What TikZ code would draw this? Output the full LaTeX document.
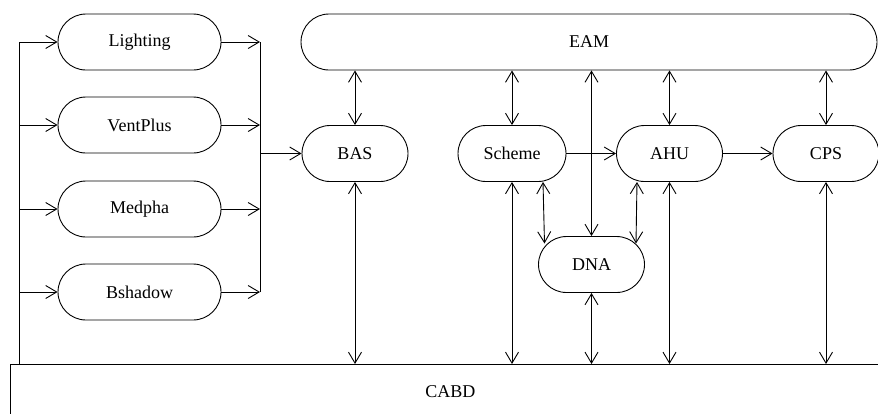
\documentclass[tikz,border=0pt]{standalone}
\usepackage{fontspec}
\setmainfont{Liberation Serif}
\usetikzlibrary{arrows.meta,shapes.misc,calc}
\begin{document}
\begin{tikzpicture}[x=1pt,y=-1pt,
  line width=0.9pt, line join=round,
  tip/.tip={Straight Barb[length=11pt,width=13pt,line width=0.9pt]},
  >=tip,
  pill/.style={rounded rectangle, draw, minimum height=56pt, inner sep=0pt,
    font=\fontsize{18}{20}\selectfont},
  small/.style={pill, minimum width=106pt},
  leftbox/.style={pill, minimum width=163pt}
]
\useasboundingbox (0,0) rectangle (878,413);
\clip (0,0) rectangle (878,413);
% left column
\node[leftbox] (light) at (139.5,42) {Lighting};
\node[leftbox] (vent) at (139.5,125) {VentPlus};
\node[leftbox] (med) at (139.5,209) {Medpha};
\node[leftbox] (bsh) at (139.5,292) {Bshadow};
% top bar
\node[pill, minimum width=576pt] (eam) at (589,42) {EAM};
% middle row
\node[small] (bas) at (355,153.5) {BAS};
\node[small, minimum width=108pt] (sch) at (512,153.5) {Scheme};
\node[small] (ahu) at (669.5,153.5) {AHU};
\node[small] (cps) at (826,153.5) {CPS};
\node[small] (dna) at (591.5,264.5) {DNA};
% bottom bar
\node[draw, rectangle, anchor=north west, minimum width=880pt, minimum height=54pt,
  inner sep=0pt, font=\fontsize{18}{20}\selectfont] (cabd) at (10,364) {CABD};
% buses
\coordinate (busL) at (19,42);
\coordinate (busR) at (260,42);
\coordinate (busRb) at (260,292);
\draw (busL |- cabd.north) -- (busL);
\foreach \n in {light,vent,med,bsh}{
  \draw[->] (busL |- \n.west) -- (\n.west);
  \draw[->] (\n.east) -- (busR |- \n.east);
}
\draw (busR) -- (busRb);
\draw[->] (busR |- bas.west) -- (bas.west);
% EAM links
\draw[<->] (eam.south -| bas.north) -- (bas.north);
\draw[<->] (eam.south -| sch.north) -- (sch.north);
\draw[<->] (eam.south -| dna.north) -- (dna.north);
\draw[<->] (eam.south -| ahu.north) -- (ahu.north);
\draw[<->] (eam.south -| cps.north) -- (cps.north);
% horizontal flow
\draw[->] (sch.east) -- (ahu.west);
\draw[->] (ahu.east) -- (cps.west);
% DNA links
\draw[<->] ($(sch.south)+(31,0)$) -- ($(dna.center)+(-47,-21)$);
\draw[<->] ($(ahu.south)+(-32.5,0)$) -- ($(dna.center)+(44.5,-21)$);
% CABD links
\draw[<->] (bas.south) -- (bas.south |- cabd.north);
\draw[<->] (sch.south) -- (sch.south |- cabd.north);
\draw[<->] (dna.south) -- (dna.south |- cabd.north);
\draw[<->] (ahu.south) -- (ahu.south |- cabd.north);
\draw[<->] (cps.south) -- (cps.south |- cabd.north);
\end{tikzpicture}
\end{document}
